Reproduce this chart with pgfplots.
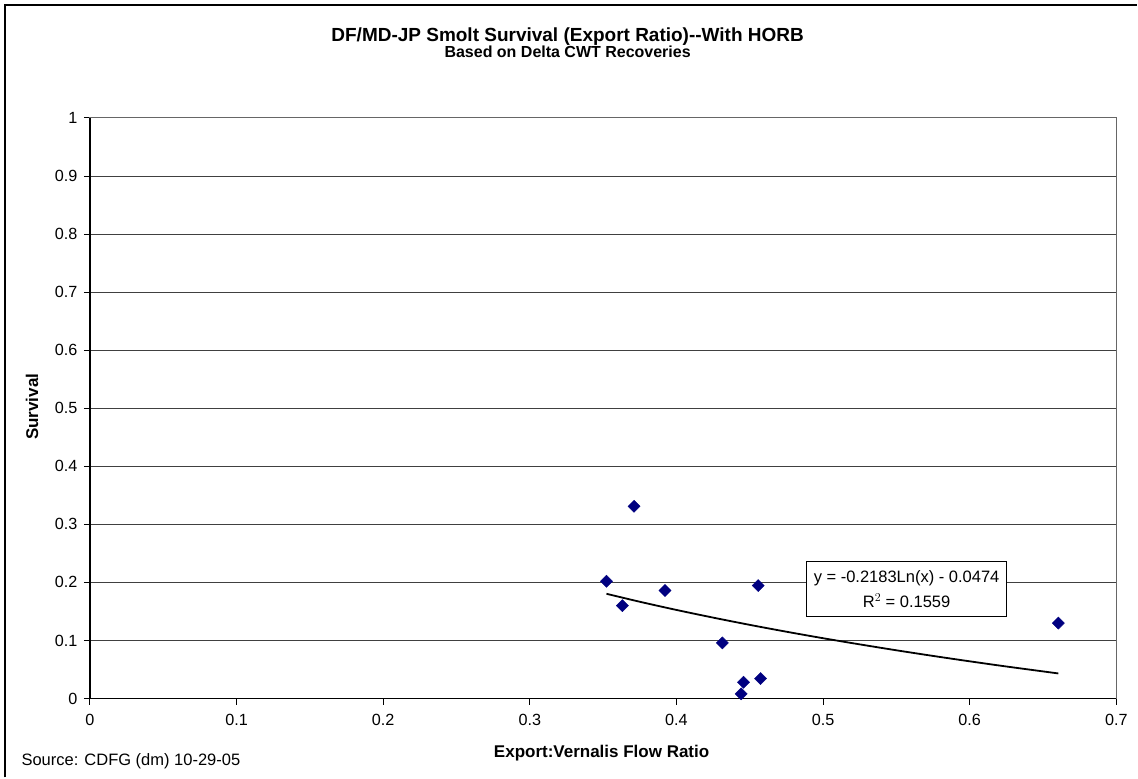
\documentclass[border=0pt]{standalone}
\usepackage{pgfplots}
\pgfplotsset{compat=1.18}
\usepackage{fontspec}
\setmainfont{Liberation Sans}
\definecolor{navy}{RGB}{0,0,128}
\begin{document}
\begin{tikzpicture}[x=1pt,y=1pt]
\fill[white] (0,0) rectangle (1138,778);
\draw[black,line width=1.5pt] (5,0) -- (5,773) -- (1138,773);
\begin{axis}[
  at={(90pt,79pt)}, anchor=south west,
  scale only axis, width=1027pt, height=581pt,
  xmin=0, xmax=0.7, ymin=0, ymax=1,
  xtick={0,0.1,...,0.7}, ytick={0,0.1,...,1},
  xticklabels={0,0.1,0.2,0.3,0.4,0.5,0.6,0.7},
  yticklabels={0,0.1,0.2,0.3,0.4,0.5,0.6,0.7,0.8,0.9,1},
  ymajorgrids, major grid style={black!75, line width=0.9pt},
  axis line style={black!60, line width=1pt},
  xtick pos=bottom, ytick pos=left,
  tick align=outside, major tick length=6pt,
  tick style={black, line width=0.9pt},
  ticklabel style={font=\fontsize{16.2}{18}\selectfont},
  /pgf/number format/assume math mode=true,
  xticklabel shift=6pt,
  yticklabel style={xshift=-3pt},
  clip=false,
]
\addplot[only marks, mark=square*, mark size=4.3pt, mark options={rotate=45, fill=navy, draw=navy}]
coordinates {
(0.3711,0.331) (0.3523,0.2019) (0.3632,0.160) (0.3922,0.186)
(0.4558,0.1945) (0.4313,0.0958) (0.4458,0.028) (0.4442,0.008)
(0.4574,0.0344) (0.6605,0.130)
};
\addplot[black, line width=1.8pt, smooth] coordinates {
(0.3523,0.1804) (0.375,0.1667) (0.40,0.1526) (0.425,0.1394) (0.45,0.1269)
(0.475,0.1151) (0.50,0.1039) (0.525,0.0933) (0.55,0.0831) (0.575,0.0734)
(0.60,0.0641) (0.625,0.0552) (0.6605,0.0432)
};
\draw[black, line width=1.2pt] (rel axis cs:0,0) -- (rel axis cs:1,0);
\draw[black, line width=1.2pt] (rel axis cs:0,0) -- (rel axis cs:0,1);
\node[draw=black, fill=white, line width=0.9pt, align=center, inner sep=3pt,
  minimum width=200pt, minimum height=55pt,
  font=\fontsize{16.5}{25}\selectfont] at (axis cs:0.557,0.1885)
  {y = -0.2183Ln(x) - 0.0474\\R$^{2}$ = 0.1559};
\end{axis}
\node[font=\bfseries\fontsize{19}{22}\selectfont, anchor=base, inner sep=0pt] at (568,778-42) {DF/MD-JP Smolt Survival (Export Ratio)-{}-With HORB};
\node[font=\bfseries\fontsize{16}{18}\selectfont, anchor=base, inner sep=0pt] at (568,778-58) {Based on Delta CWT Recoveries};
\node[font=\bfseries\fontsize{17}{19}\selectfont, rotate=90] at (32,778-407) {Survival};
\node[font=\bfseries\fontsize{17}{19}\selectfont] at (602,778-754) {Export:Vernalis Flow Ratio};
\node[font=\fontsize{16.5}{18}\selectfont, anchor=west] at (18,778-762) {Source: CDFG (dm) 10-29-05};
\end{tikzpicture}
\end{document}
